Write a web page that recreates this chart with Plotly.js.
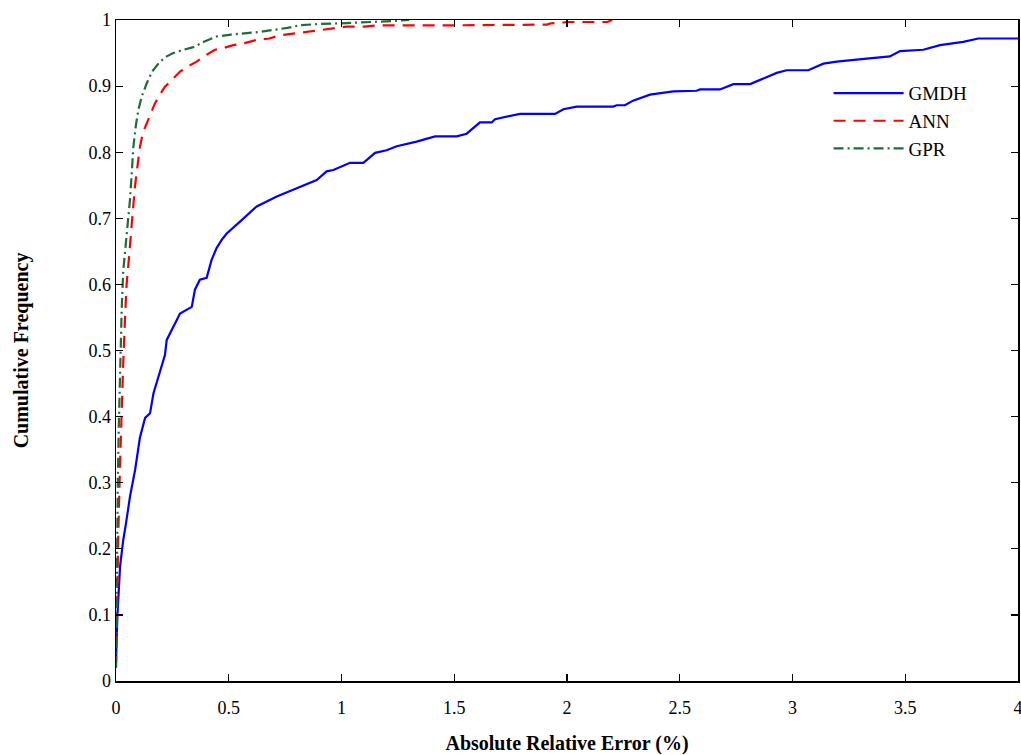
<!DOCTYPE html>
<html>
<head>
<meta charset="utf-8">
<script src="https://cdn.plot.ly/plotly-3.0.1.min.js"></script>
<style>html,body{margin:0;padding:0;background:#fff;}#chart{width:1021px;height:755px;}</style>
</head>
<body>
<div id="chart"></div>
<script>
const gmdhX = [0, 0.006, 0.018, 0.032, 0.045, 0.062, 0.085, 0.106, 0.129, 0.151, 0.166, 0.195, 0.217, 0.225, 0.26, 0.284, 0.336, 0.35, 0.372, 0.402, 0.424, 0.446, 0.47, 0.491, 0.55, 0.6, 0.624, 0.713, 0.816, 0.89, 0.934, 0.964, 1.038, 1.097, 1.149, 1.2, 1.245, 1.333, 1.415, 1.511, 1.555, 1.614, 1.666, 1.681, 1.792, 1.947, 1.984, 2.043, 2.205, 2.22, 2.257, 2.293, 2.368, 2.472, 2.575, 2.59, 2.678, 2.738, 2.812, 2.871, 2.93, 2.974, 3.07, 3.137, 3.196, 3.284, 3.432, 3.477, 3.58, 3.654, 3.757, 3.824, 4.0];
const gmdhY = [0.03, 0.097, 0.173, 0.213, 0.24, 0.279, 0.32, 0.368, 0.398, 0.405, 0.435, 0.47, 0.493, 0.516, 0.54, 0.556, 0.566, 0.592, 0.607, 0.61, 0.637, 0.655, 0.668, 0.677, 0.695, 0.71, 0.718, 0.733, 0.748, 0.758, 0.771, 0.773, 0.784, 0.784, 0.799, 0.803, 0.809, 0.816, 0.824, 0.824, 0.828, 0.845, 0.845, 0.85, 0.858, 0.858, 0.865, 0.869, 0.869, 0.871, 0.871, 0.878, 0.887, 0.892, 0.893, 0.895, 0.895, 0.903, 0.903, 0.912, 0.92, 0.924, 0.924, 0.934, 0.937, 0.94, 0.945, 0.953, 0.955, 0.962, 0.967, 0.972, 0.972];

const annX = [0, 0.003, 0.006, 0.01, 0.018, 0.025, 0.032, 0.04, 0.047, 0.055, 0.062, 0.072, 0.084, 0.095, 0.106, 0.12, 0.136, 0.155, 0.173, 0.195, 0.217, 0.25, 0.284, 0.32, 0.358, 0.4, 0.439, 0.48, 0.52, 0.57, 0.624, 0.68, 0.727, 0.8, 0.846, 0.9, 0.949, 1.023, 1.1, 1.16, 1.5, 1.91, 1.93, 2.01, 2.18, 2.2];
const annY = [0.02, 0.1, 0.15, 0.22, 0.33, 0.42, 0.48, 0.55, 0.6, 0.63, 0.655, 0.7, 0.748, 0.78, 0.808, 0.83, 0.844, 0.86, 0.874, 0.887, 0.899, 0.91, 0.922, 0.93, 0.937, 0.947, 0.955, 0.958, 0.962, 0.965, 0.97, 0.972, 0.977, 0.98, 0.982, 0.985, 0.987, 0.99, 0.99, 0.992, 0.992, 0.993, 0.995, 0.997, 0.997, 1.0];

const gprX = [0, 0.002, 0.004, 0.008, 0.012, 0.018, 0.025, 0.032, 0.04, 0.047, 0.055, 0.062, 0.07, 0.077, 0.088, 0.099, 0.115, 0.136, 0.16, 0.195, 0.225, 0.254, 0.3, 0.343, 0.39, 0.446, 0.51, 0.58, 0.64, 0.698, 0.76, 0.816, 0.9, 1.0, 1.1, 1.2, 1.3];
const gprY = [0.02, 0.1, 0.2, 0.3, 0.38, 0.48, 0.56, 0.62, 0.65, 0.68, 0.7, 0.728, 0.77, 0.808, 0.84, 0.864, 0.885, 0.904, 0.922, 0.937, 0.945, 0.95, 0.955, 0.959, 0.967, 0.975, 0.978, 0.98, 0.982, 0.985, 0.988, 0.992, 0.994, 0.995, 0.996, 0.998, 1.0];

const xTicks = [0, 0.5, 1, 1.5, 2, 2.5, 3, 3.5, 4];
const xTickText = ['0', '0.5', '1', '1.5', '2', '2.5', '3', '3.5', '4'];
const yTicks = [0, 0.1, 0.2, 0.3, 0.4, 0.5, 0.6, 0.7, 0.8, 0.9, 1];
const yTickText = ['0', '0.1', '0.2', '0.3', '0.4', '0.5', '0.6', '0.7', '0.8', '0.9', '1'];

const serif = 'Liberation Serif, Times New Roman, serif';

const traces = [
  {x: gmdhX, y: gmdhY, name: 'GMDH', type: 'scatter', mode: 'lines',
   line: {color: '#0000ff', width: 2.2}},
  {x: annX, y: annY, name: 'ANN', type: 'scatter', mode: 'lines',
   line: {color: '#ff0000', width: 2.2, dash: '12px,8px'}},
  {x: gprX, y: gprY, name: 'GPR', type: 'scatter', mode: 'lines',
   line: {color: '#1e6b3c', width: 2.2, dash: '10px,4px,2px,4px'}}
];

const layout = {
  width: 1021, height: 755,
  margin: {l: 116, r: 3, t: 20, b: 74},
  paper_bgcolor: '#ffffff', plot_bgcolor: '#ffffff',
  font: {family: serif, color: '#000', size: 18},
  showlegend: true,
  legend: {x: 0.79, y: 0.918, xanchor: 'left', yanchor: 'top',
    bgcolor: 'rgba(0,0,0,0)', borderwidth: 0,
    font: {family: serif, size: 19, color: '#000'},
    itemwidth: 70, tracegroupgap: 0},
  xaxis: {
    range: [0, 4], tickvals: xTicks, ticktext: xTickText,
    ticks: 'inside', ticklen: 7, tickwidth: 1.2, tickcolor: '#000',
    showline: true, linecolor: '#000', linewidth: 1.5, mirror: 'ticks',
    showgrid: false, zeroline: false, ticklabeloverflow: 'allow',
    ticklabelstandoff: 10,
    tickfont: {family: serif, size: 18},
    title: {text: '<b>Absolute Relative Error (%)</b>', font: {family: serif, size: 20}, standoff: 22}
  },
  yaxis: {
    range: [0, 1], tickvals: yTicks, ticktext: yTickText,
    ticks: 'inside', ticklen: 7, tickwidth: 1.2, tickcolor: '#000',
    showline: true, linecolor: '#000', linewidth: 1.5, mirror: 'ticks',
    showgrid: false, zeroline: false,
    tickfont: {family: serif, size: 18},
    title: {text: '<b>Cumulative Frequency</b>', font: {family: serif, size: 20}, standoff: 54}
  }
};

Plotly.newPlot('chart', traces, layout, {displayModeBar: false, staticPlot: true});
</script>
</body>
</html>
